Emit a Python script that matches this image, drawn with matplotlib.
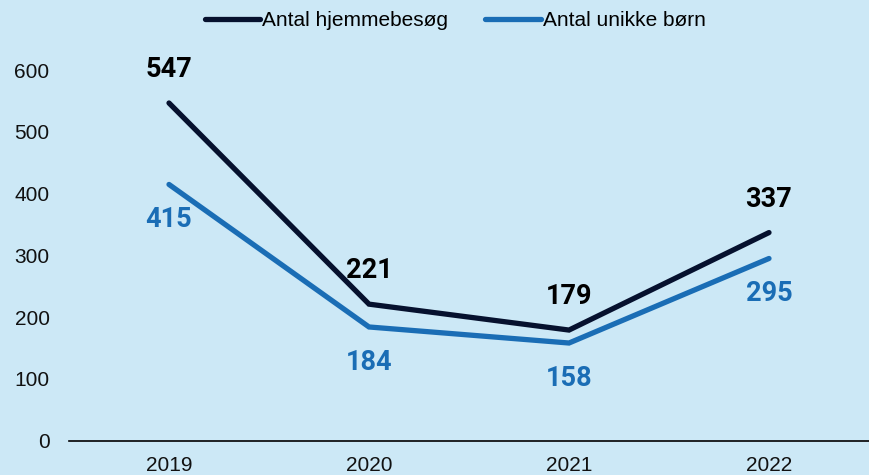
import matplotlib
matplotlib.use("Agg")
import matplotlib.pyplot as plt

years = ["2019", "2020", "2021", "2022"]
hjemmebesog = [547, 221, 179, 337]
unikke_born = [415, 184, 158, 295]
series_names = ["Antal hjemmebesøg", "Antal unikke børn"]
yticks = [0, 100, 200, 300, 400, 500, 600]

bg = "#cce8f6"
c_dark = "#06112e"
c_blue = "#1a6db5"

W, H = 869, 475
fig = plt.figure(figsize=(W / 100, H / 100), dpi=100)
fig.patch.set_facecolor(bg)
ax_bottom = (H - 440.5) / H
ymax = 640
ax_h = (ymax / 100 * 61.7) / H
ax = fig.add_axes([69 / W, ax_bottom, 800 / W, ax_h])
ax.set_facecolor(bg)

x = list(range(len(years)))
l1, = ax.plot(x, hjemmebesog, color=c_dark, lw=3.8, solid_capstyle="round",
              solid_joinstyle="miter", label=series_names[0])
l2, = ax.plot(x, unikke_born, color=c_blue, lw=3.8, solid_capstyle="round",
              solid_joinstyle="miter", label=series_names[1])

lab_font = dict(fontsize=19.5, fontweight="bold", family="Roboto")
for xi, v in zip(x, hjemmebesog):
    ax.annotate(str(v), (xi, v), xytext=(0, 24), textcoords="offset points",
                ha="center", va="center", color="#000000", **lab_font)
for xi, v in zip(x, unikke_born):
    ax.annotate(str(v), (xi, v), xytext=(0, -25.5), textcoords="offset points",
                ha="center", va="center", color=c_blue, **lab_font)

ax.set_xlim(-0.5, len(years) - 0.5)
ax.set_ylim(0, ymax)
ax.set_xticks(x)
ax.set_xticklabels(years)
ax.set_yticks(yticks)
ax.set_yticklabels([str(t) for t in yticks])
ax.tick_params(axis="both", length=0, labelsize=15, labelcolor="#111111")
ax.tick_params(axis="y", pad=14)
ax.tick_params(axis="x", pad=11)
for lab in ax.get_xticklabels() + ax.get_yticklabels():
    lab.set_family("Liberation Sans")
for s in ["top", "right", "left"]:
    ax.spines[s].set_visible(False)
ax.spines["bottom"].set_color("#000000")
ax.spines["bottom"].set_linewidth(1.2)

leg = fig.legend(handles=[l1, l2], loc="center", bbox_to_anchor=(455 / W, 1 - 21 / H),
                 ncol=2, frameon=False, handlelength=2.65, handletextpad=0.1,
                 columnspacing=1.8, prop={"family": "Liberation Sans", "size": 15})

fig.savefig("out.png", dpi=100, facecolor=bg)
